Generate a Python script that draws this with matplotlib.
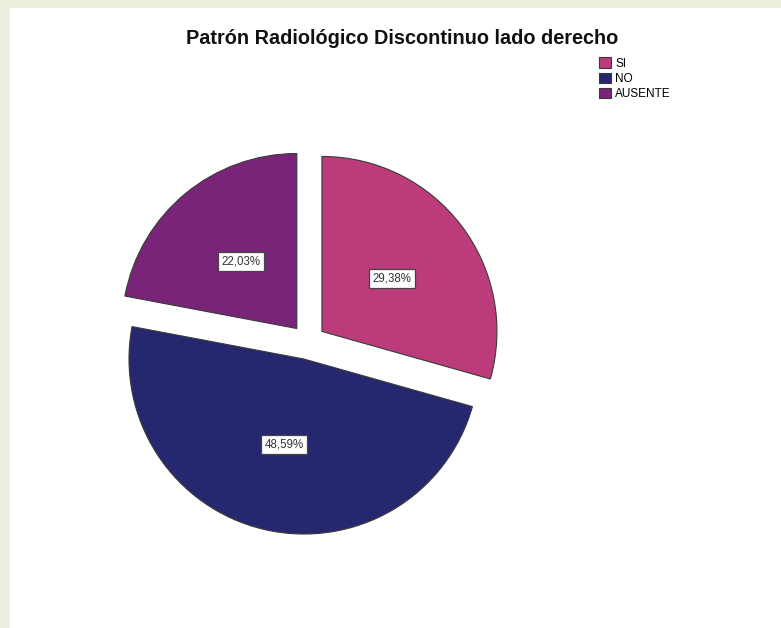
import matplotlib.pyplot as plt
from matplotlib.patches import Rectangle

plt.rcParams['font.family'] = ['Liberation Sans', 'DejaVu Sans']

categorias = ['SI', 'NO', 'AUSENTE']
porcentajes = [29.38, 48.59, 22.03]
colores = ['#bc3c7b', '#26286f', '#7a2479']
titulo = 'Patrón Radiológico Discontinuo lado derecho'

W, H = 781, 628
fig = plt.figure(figsize=(W / 100, H / 100), dpi=100)
fig.patch.set_facecolor('white')

# franja clara del marco (izquierda y arriba)
fig.patches.append(Rectangle((0, 0), 10 / W, 1, transform=fig.transFigure,
                             facecolor='#edf0df', edgecolor='none', zorder=0))
fig.patches.append(Rectangle((0, 1 - 8 / H), 1, 8 / H, transform=fig.transFigure,
                             facecolor='#edf0df', edgecolor='none', zorder=0))

ax = fig.add_axes([0, 0, 1, 1])
ax.patch.set_alpha(0)

def fmt(p):
    return ('%.2f%%' % p).replace('.', ',')

wedges, textos, autotextos = ax.pie(
    porcentajes, colors=colores, startangle=90, counterclock=False,
    explode=[0.1, 0.1, 0.1], radius=1, autopct=fmt, pctdistance=0.5,
    wedgeprops=dict(edgecolor='#3a3a3a', linewidth=0.8),
    textprops=dict(fontsize=8.3, color='#333333'))

for t in autotextos:
    t.set_bbox(dict(boxstyle='square,pad=0.3', facecolor='white',
                    edgecolor='#444444', linewidth=0.9))

# escala: 175 px por unidad, centro del pastel en (308, 342) px
px = 175.0
cx, cy = 308, 342
ax.set_aspect('auto')
ax.set_xlim(-cx / px, (W - cx) / px)
ax.set_ylim(-(H - cy) / px, cy / px)
ax.axis('off')

fig.text(402 / W, 1 - 38 / H, titulo, ha='center', va='center',
         fontsize=14.3, fontweight='bold', color='#111111')

fig.legend(wedges, categorias, loc='upper left',
           bbox_to_anchor=(597 / W, 1 - 55 / H), frameon=False,
           fontsize=8.5, handlelength=1.0, handleheight=1.0,
           handletextpad=0.35, labelspacing=0.25, borderaxespad=0,
           borderpad=0.2)

fig.savefig('out.png', dpi=100)
